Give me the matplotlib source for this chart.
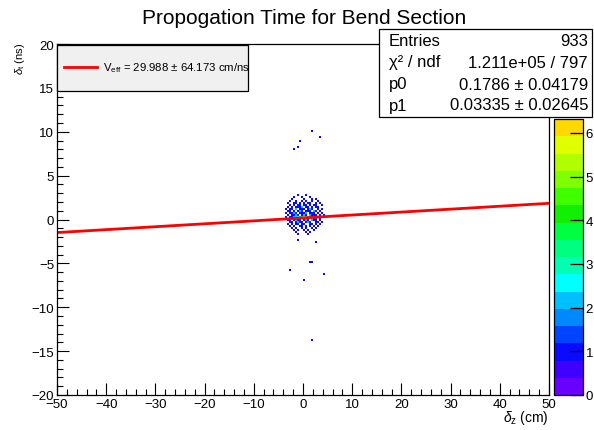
import numpy as np
import matplotlib
matplotlib.use("Agg")
import matplotlib.pyplot as plt
from matplotlib.colors import ListedColormap, BoundaryNorm
from matplotlib.patches import Rectangle
from matplotlib.lines import Line2D
import matplotlib.colorbar as mcolorbar

plt.rcParams['font.family'] = ['Liberation Sans', 'DejaVu Sans']
plt.rcParams['mathtext.fontset'] = 'custom'
plt.rcParams['mathtext.rm'] = 'Liberation Sans'
plt.rcParams['mathtext.it'] = 'Liberation Sans:italic'

# ---------------- data ----------------
title = "Propogation Time for Bend Section"
x_range = (-50, 50)
y_range = (-20, 20)
n_xbins = 250
n_ybins = 175

# counts in the central cluster (rows from top y downwards), bins of the histogram
cluster_left_edge = -3.6     # cm (x lower edge of first column)
cluster_top_edge = 2.857     # ns (y upper edge of first row)
cluster_rows = [
    "00000010001000000000",
    "00001000100010000000",
    "00010000010001010000",
    "00100100101001001000",
    "01001101010110010100",
    "00101011011010110010",
    "01010111201101011000",
    "10110201110121001010",
    "01101012101110210100",
    "10112101112011101010",
    "01011210121021110101",
    "10112232463221211010",
    "01101211012102110100",
    "00110121101210011010",
    "01010110110011010100",
    "00101001101010101000",
    "00010100101001010000",
    "00001010010100100000",
    "00000100001010000000",
    "00000010000100000000",
]

# isolated entries (cm, ns)
outlier_x = [1.83, 3.25, -0.41, -1.0, -1.63, 1.83, 1.42, -2.44, 4.07, 0.0, 1.83, -0.81, 2.44]
outlier_y = [9.97, 9.40, 8.83, 8.26, 8.03, -4.73, -4.84, -5.64, -6.21, -6.78, -13.73, -2.22, -2.56]

# fit results
p0 = 0.1786
p1 = 0.03335
stats_labels = ["Entries", "\u03c7\u00b2 / ndf", "p0", "p1"]
stats_values = ["933", "1.211e+05 / 797", "0.1786 \u00b1 0.04179", "0.03335 \u00b1 0.02645"]
legend_label = r"V$_{\mathrm{eff}}$ = 29.988 $\pm$ 64.173 cm/ns"

z_max = 6.32
n_levels = 16
palette = [
    "#6a00ff", "#4000ff", "#0a0aff", "#0044ff", "#0088ff", "#00bfff",
    "#00ffff", "#00ffb4", "#00ff80", "#00ff40", "#10f000", "#40ff00",
    "#80ff00", "#b0ff00", "#e0ff00", "#ffd800",
]

# ---------------- build histogram ----------------
xedges = np.linspace(x_range[0], x_range[1], n_xbins + 1)
yedges = np.linspace(y_range[0], y_range[1], n_ybins + 1)
dx = xedges[1] - xedges[0]
dy = yedges[1] - yedges[0]
xs, ys = [], []
for r, row in enumerate(cluster_rows):
    yc = cluster_top_edge - (r + 0.5) * dy
    for c, ch in enumerate(row):
        n = int(ch)
        xc = cluster_left_edge + (c + 0.5) * dx
        xs += [xc] * n
        ys += [yc] * n
xs += outlier_x
ys += outlier_y
H, _, _ = np.histogram2d(xs, ys, bins=[xedges, yedges])
Hm = np.ma.masked_equal(H.T, 0)

# ---------------- figure ----------------
W, Hpx = 594, 431
fig = plt.figure(figsize=(W / 100, Hpx / 100), dpi=100)
fig.patch.set_facecolor("white")

def fx(px):
    return px / W

def fy(py):
    return 1 - py / Hpx

ax_l, ax_r, ax_t, ax_b = 57, 549, 45, 396
ax = fig.add_axes([fx(ax_l), fy(ax_b), fx(ax_r - ax_l), (ax_b - ax_t) / Hpx])

cmap = ListedColormap(palette)
levels = np.linspace(0, z_max, n_levels + 1)
norm = BoundaryNorm(levels, n_levels)
ax.pcolormesh(xedges, yedges, Hm, cmap=cmap, norm=norm, antialiased=True)

xf = np.array(x_range, dtype=float)
ax.plot(xf, p0 + p1 * xf, color="#ff0000", lw=2.0, solid_capstyle="butt")

ax.set_xlim(*x_range)
ax.set_ylim(*y_range)
ax.set_xticks(np.arange(-50, 51, 10))
ax.set_xticks(np.arange(-50, 51, 2), minor=True)
ax.set_yticks(np.arange(-20, 21, 5))
ax.set_yticks(np.arange(-20, 21, 1), minor=True)
ax.tick_params(which="both", direction="in", top=False, right=False,
               labelsize=9.5, width=0.8, colors="black")
ax.tick_params(which="major", length=8.5, pad=2)
ax.tick_params(which="minor", length=4.5)
for s in ax.spines.values():
    s.set_linewidth(0.9)

fig.text(fx(304), fy(19), title, ha="center", va="center", fontsize=15)
fig.text(fx(549), fy(418), r"$\delta_{\mathrm{z}}$ (cm)", ha="right", va="center", fontsize=10)
fig.text(fx(20), fy(43), r"$\delta_{\mathrm{t}}$ (ns)", ha="center", va="top", rotation=90, fontsize=8)

# legend box
leg = Rectangle((fx(57), fy(92)), fx(248 - 57), (92 - 46) / Hpx, transform=fig.transFigure,
                facecolor="#f0f0f0", edgecolor="black", lw=0.9, zorder=5)
fig.add_artist(leg)
fig.add_artist(Line2D([fx(64), fx(97)], [fy(68), fy(68)], transform=fig.transFigure,
                      color="#ff0000", lw=2.0, zorder=6))
t = fig.text(fx(103), fy(68), legend_label, ha="left", va="center", fontsize=8.2, zorder=6)
t.set_clip_path(leg)

# stats box
sb = Rectangle((fx(379), fy(118)), fx(592 - 379), (118 - 30) / Hpx, transform=fig.transFigure,
               facecolor="white", edgecolor="black", lw=0.9, zorder=5)
fig.add_artist(sb)
row_y = [42, 63, 85, 106]
for lab, val, yy in zip(stats_labels, stats_values, row_y):
    fig.text(fx(389), fy(yy), lab, ha="left", va="center", fontsize=12, zorder=6)
    fig.text(fx(588), fy(yy), val, ha="right", va="center", fontsize=12, zorder=6)

# colour bar
cax = fig.add_axes([fx(554), fy(396), fx(583 - 554), (396 - 120) / Hpx])
cb = mcolorbar.ColorbarBase(cax, cmap=cmap, norm=norm, boundaries=levels,
                            spacing="proportional", orientation="vertical")
cb.set_ticks(np.arange(0, 7, 1))
cb.outline.set_linewidth(0.9)
cax.tick_params(direction="in", length=9.5, width=0.9, labelsize=9.5, pad=2, right=True, left=False)
cax.yaxis.set_ticks_position("right")
cb.ax.minorticks_off()

fig.savefig("out.png", dpi=100)
